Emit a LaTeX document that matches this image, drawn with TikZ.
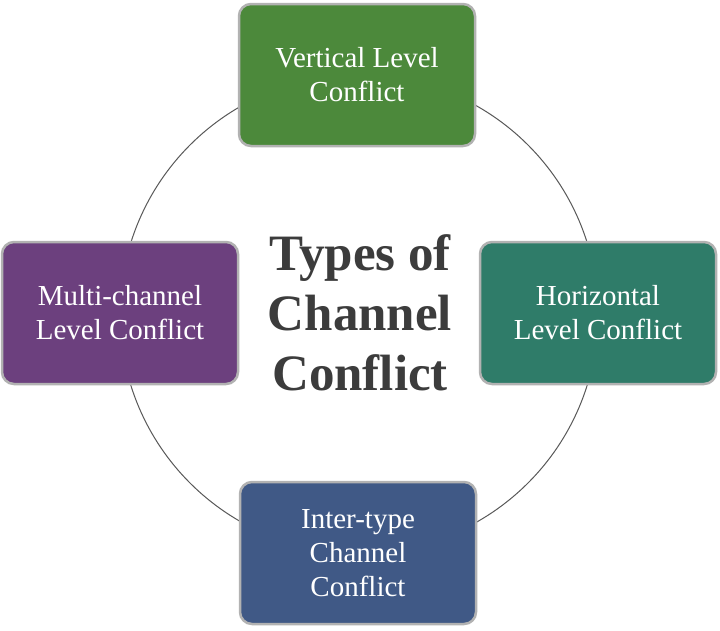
\documentclass[tikz,border=0pt]{standalone}
\usepackage{fontspec}
\setmainfont{Liberation Serif}
\begin{document}
\begin{tikzpicture}[x=1pt,y=-1pt,
 box/.style={draw=gray!60,line width=2.5pt,rounded corners=12pt,minimum width=236pt,minimum height=142pt,text=white,align=center,font=\fontsize{29}{34}\selectfont,inner sep=0pt}]
\useasboundingbox (0,0) rectangle (720,630);
\fill[white] (0,0) rectangle (720,630);
\draw[gray!70!black,line width=1pt] (359,314) circle (239);
\node[box,fill={rgb,255:red,76;green,137;blue,59}] (v) at (357,75) {Vertical Level\\Conflict};
\node[box,fill={rgb,255:red,108;green,64;blue,126}] (m) at (120,313) {Multi-channel\\Level Conflict};
\node[box,fill={rgb,255:red,47;green,124;blue,105}] (h) at (598,313) {Horizontal\\Level Conflict};
\node[box,fill={rgb,255:red,64;green,89;blue,134}] (i) at (358,553) {Inter-type\\Channel\\Conflict};
\node[font=\bfseries\fontsize{51}{60}\selectfont,text={rgb,255:red,60;green,60;blue,60},align=center] (c) at (360,313) {Types of\\Channel\\Conflict};
\end{tikzpicture}
\end{document}
